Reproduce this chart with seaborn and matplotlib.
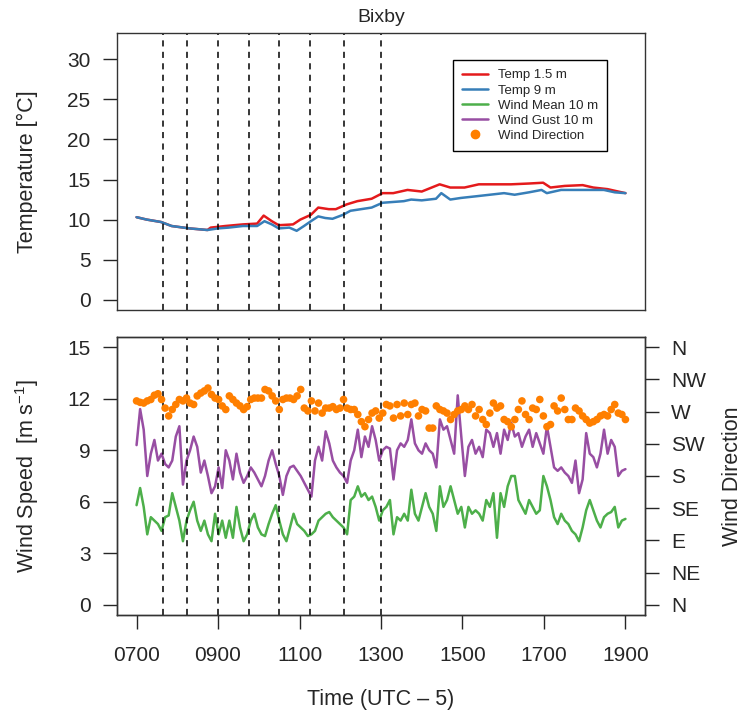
import numpy as np
import pandas as pd
import matplotlib
matplotlib.use("Agg")
import matplotlib.pyplot as plt
import seaborn as sns

# ---------------- data ----------------
temp15_hours = [7.0, 7.25, 7.6, 7.86, 8.3, 8.74, 8.82, 9.18, 9.61, 9.96, 10.12, 10.32, 10.49,
                10.84, 11.02, 11.28, 11.46, 11.72, 11.89, 12.16, 12.42, 12.77, 13.04, 13.3,
                13.65, 14.0, 14.44, 14.7, 15.05, 15.4, 15.75, 16.19, 16.63, 16.98, 17.16,
                17.51, 17.95, 18.21, 18.56, 19.0]
temp15 = [10.3, 10.0, 9.7, 9.2, 8.9, 8.7, 9.0, 9.2, 9.4, 9.5, 10.5, 9.8, 9.3,
          9.4, 10.0, 10.6, 11.5, 11.3, 11.3, 11.9, 12.3, 12.6, 13.3, 13.3,
          13.7, 13.5, 14.4, 14.0, 14.0, 14.4, 14.4, 14.4, 14.5, 14.6, 14.0,
          14.2, 14.3, 14.0, 13.8, 13.3]

temp9_hours = [7.0, 7.25, 7.6, 7.86, 8.3, 8.74, 9.0, 9.26, 9.61, 9.96, 10.14, 10.32, 10.49,
               10.75, 10.93, 11.11, 11.28, 11.46, 11.63, 11.81, 12.07, 12.25, 12.51, 12.77,
               13.04, 13.3, 13.56, 13.74, 14.0, 14.35, 14.48, 14.7, 14.96, 15.32, 15.67,
               16.02, 16.28, 16.63, 16.94, 17.07, 17.42, 17.77, 18.21, 18.47, 18.74, 19.0]
temp9 = [10.3, 10.0, 9.7, 9.2, 8.9, 8.7, 8.9, 9.0, 9.2, 9.2, 9.8, 9.4, 8.9,
         9.0, 8.6, 9.2, 9.8, 10.4, 10.2, 10.1, 10.6, 11.1, 11.3, 11.5,
         12.1, 12.2, 12.3, 12.5, 12.4, 12.6, 13.3, 12.5, 12.7, 12.9, 13.1,
         13.3, 13.1, 13.4, 13.7, 13.3, 13.7, 13.7, 13.7, 13.7, 13.4, 13.3]

wind_gust = [9.3, 11.4, 10.2, 7.5, 8.8, 9.6, 8.4, 8.8, 8.2, 8.0, 8.4, 9.8, 10.4, 7.0, 8.4,
             9.0, 9.8, 9.2, 7.7, 8.4, 7.5, 6.5, 6.9, 8.0, 6.8, 9.0, 8.4, 7.3, 8.8, 7.7,
             7.1, 7.5, 8.0, 7.7, 7.3, 6.9, 7.5, 8.4, 9.0, 8.2, 7.5, 6.4, 7.5, 8.0, 8.1,
             7.8, 7.5, 7.1, 6.7, 6.3, 8.4, 9.2, 8.4, 10.1, 9.4, 8.4, 8.0, 7.7, 7.5, 7.1,
             8.4, 9.0, 10.2, 8.6, 9.8, 9.2, 10.4, 9.6, 8.4, 9.0, 9.2, 9.1, 7.3, 9.0, 9.4,
             9.2, 9.6, 10.8, 9.4, 9.0, 8.8, 9.4, 9.0, 8.8, 8.0, 10.8, 10.2, 10.4, 9.6, 8.8,
             12.2, 9.8, 7.5, 9.2, 9.6, 8.8, 9.2, 8.6, 10.2, 10.0, 9.2, 10.0, 8.8, 10.2, 9.6,
             10.6, 9.8, 10.0, 9.2, 9.8, 10.2, 9.2, 10.0, 9.4, 8.8, 10.4, 9.2, 8.0, 7.8, 8.0,
             7.7, 7.5, 7.1, 8.4, 6.5, 7.3, 10.0, 8.8, 8.6, 8.0, 8.8, 10.2, 8.8, 9.6, 9.2,
             7.5, 7.8, 7.9]

wind_mean = [5.8, 6.8, 5.7, 4.1, 5.1, 4.9, 4.7, 4.3, 5.1, 5.2, 6.5, 5.7, 4.9, 3.7, 4.9,
             5.5, 6.0, 4.9, 4.3, 4.9, 4.1, 3.7, 5.3, 4.1, 4.9, 3.9, 4.9, 3.9, 5.7, 4.5,
             3.7, 4.1, 4.9, 5.3, 4.5, 4.1, 4.0, 4.7, 5.3, 5.8, 4.9, 4.1, 3.7, 4.5, 5.3,
             4.7, 4.5, 4.3, 4.0, 4.1, 4.3, 4.9, 5.1, 5.3, 5.4, 5.1, 4.9, 4.7, 4.5, 4.1,
             6.1, 6.3, 6.9, 6.3, 6.5, 6.1, 6.3, 5.7, 4.9, 5.5, 5.7, 6.1, 4.1, 5.1, 4.9,
             5.3, 4.9, 6.7, 5.3, 4.9, 5.7, 6.5, 5.7, 5.3, 4.3, 6.9, 5.7, 6.1, 6.9, 6.1,
             5.3, 5.7, 4.5, 5.7, 5.3, 5.5, 5.3, 4.9, 6.1, 5.7, 6.5, 3.9, 6.5, 5.7, 6.9,
             7.5, 7.5, 6.1, 5.7, 5.3, 6.1, 5.7, 5.3, 5.5, 7.5, 6.9, 6.1, 5.1, 4.7, 5.3,
             4.9, 4.7, 4.3, 4.1, 3.7, 4.5, 5.5, 6.1, 5.5, 4.9, 4.5, 5.1, 5.3, 5.4, 5.7,
             4.5, 4.9, 5.0]

wind_dir = [285, 283, 282, 285, 287, 293, 295, 287, 275, 264, 273, 280, 287, 285, 289,
            282, 280, 292, 296, 299, 303, 294, 289, 287, 278, 273, 292, 287, 282, 278,
            273, 277, 287, 289, 289, 289, 301, 299, 292, 285, 273, 287, 289, 289, 287,
            292, 301, 275, 271, 285, 271, 282, 268, 275, 275, 277, 273, 275, 287, 275,
            273, 273, 266, 256, 249, 259, 268, 271, 261, 268, 280, 278, 261, 280, 264,
            282, 266, 280, 282, 264, 273, 271, 247, 247, 278, 273, 271, 268, 259, 266,
            271, 273, 278, 273, 280, 264, 273, 259, 252, 268, 282, 275, 278, 259, 256,
            249, 259, 273, 285, 266, 259, 275, 273, 287, 264, 249, 252, 278, 271, 289,
            273, 259, 259, 275, 271, 264, 259, 254, 256, 259, 264, 266, 264, 273, 280,
            268, 266, 259]

event_hours = [7.65, 8.25, 9.0, 9.75, 10.5, 11.25, 12.1, 13.0]

xtick_hours = [7, 9, 11, 13, 15, 17, 19]
xtick_labels = ["0700", "0900", "1100", "1300", "1500", "1700", "1900"]
temp_ticks = [0, 5, 10, 15, 20, 25, 30]
speed_ticks = [0, 3, 6, 9, 12, 15]
dir_ticks = [0, 45, 90, 135, 180, 225, 270, 315, 360]
dir_labels = ["N", "NE", "E", "SE", "S", "SW", "W", "NW", "N"]

# ---------------- style ----------------
sns.set_style("ticks")
plt.rcParams["font.family"] = ["Liberation Sans", "DejaVu Sans"]
plt.rcParams["mathtext.fontset"] = "custom"
plt.rcParams["mathtext.rm"] = "Liberation Sans"
plt.rcParams["axes.linewidth"] = 1.0
plt.rcParams["axes.edgecolor"] = "#333333"

c_red, c_blue, c_green, c_purple, c_orange = "#E41A1C", "#377EB8", "#4DAF4A", "#984EA3", "#FF7F00"
TICK_FS = 15
LAB_FS = 15.5

W, H = 745, 721
fig = plt.figure(figsize=(W / 100, H / 100), dpi=100)
ax1 = fig.add_axes([117 / W, 1 - 310 / H, 528 / W, 277 / H])
ax2 = fig.add_axes([117 / W, 1 - 615 / H, 528 / W, 278 / H])

xlim = (7 - 0.48, 19 + 0.48)

# ---------------- top panel ----------------
df15 = pd.DataFrame({"hour": temp15_hours, "val": temp15})
df9 = pd.DataFrame({"hour": temp9_hours, "val": temp9})
sns.lineplot(data=df15, x="hour", y="val", ax=ax1, color=c_red, lw=1.8, label="Temp 1.5 m")
sns.lineplot(data=df9, x="hour", y="val", ax=ax1, color=c_blue, lw=1.8, label="Temp 9 m")
ax1.plot([], [], color=c_green, lw=1.8, label="Wind Mean 10 m")
ax1.plot([], [], color=c_purple, lw=1.8, label="Wind Gust 10 m")
ax1.plot([], [], "o", color=c_orange, ms=6, label="Wind Direction")
for h in event_hours:
    ax1.axvline(h, color="black", ls=(0, (4, 3.5)), lw=1.1)
ax1.set_xlim(*xlim)
ax1.set_ylim(-1.28, 33.28)
ax1.set_yticks(temp_ticks)
ax1.set_xticks([])
ax1.set_xlabel("")
ax1.set_ylabel("Temperature [°C]", fontsize=LAB_FS)
ax1.yaxis.set_label_coords((27 - 117) / 528, 0.5)
ax1.yaxis.label.set_va("center")
ax1.set_title("Bixby", fontsize=14, pad=8)
ax1.tick_params(axis="y", labelsize=TICK_FS, length=10, width=1, direction="out", pad=9)
leg = ax1.legend(loc="upper right", bbox_to_anchor=((607 - 117) / 528, (310 - 60) / 277),
                 borderaxespad=0, fontsize=9.5, frameon=True, fancybox=False,
                 edgecolor="black", handlelength=2.0, handletextpad=0.7, labelspacing=0.22,
                 borderpad=0.7, framealpha=1)
leg.get_frame().set_linewidth(1.0)

# ---------------- bottom panel ----------------
dfg = pd.DataFrame({"hour": np.linspace(7, 19, len(wind_gust)), "val": wind_gust})
dfm = pd.DataFrame({"hour": np.linspace(7, 19, len(wind_mean)), "val": wind_mean})
sns.lineplot(data=dfg, x="hour", y="val", ax=ax2, color=c_purple, lw=1.8)
sns.lineplot(data=dfm, x="hour", y="val", ax=ax2, color=c_green, lw=1.8)
for h in event_hours:
    ax2.axvline(h, color="black", ls=(0, (4, 3.5)), lw=1.1)
ax2.set_xlim(*xlim)
ax2.set_ylim(-0.6, 15.6)
ax2.set_yticks(speed_ticks)
ax2.set_xticks(xtick_hours)
ax2.set_xticklabels(xtick_labels)
ax2.set_xlabel("Time (UTC – 5)", fontsize=LAB_FS)
ax2.xaxis.set_label_coords(0.5, (615 - 700) / 278)
ax2.xaxis.label.set_va("center")
ax2.set_ylabel("Wind Speed  [m s$^{-1}$]", fontsize=LAB_FS)
ax2.yaxis.set_label_coords((27 - 117) / 528, 0.5)
ax2.yaxis.label.set_va("center")
ax2.tick_params(axis="y", labelsize=TICK_FS, length=10, width=1, direction="out", pad=9)
ax2.tick_params(axis="x", labelsize=TICK_FS, length=10, width=1, direction="out", pad=12)

ax3 = ax2.twinx()
dfd = pd.DataFrame({"hour": np.linspace(7, 19, len(wind_dir)), "val": wind_dir})
sns.scatterplot(data=dfd, x="hour", y="val", ax=ax3, color=c_orange, s=30,
                edgecolor="none", zorder=5)
ax3.set_ylim(-0.6 * 24, 15.6 * 24)
ax3.set_yticks(dir_ticks)
ax3.set_yticklabels(dir_labels)
ax3.set_ylabel("Wind Direction", fontsize=LAB_FS)
ax3.yaxis.set_label_coords((733 - 117) / 528, 0.5)
ax3.yaxis.label.set_va("center")
ax3.tick_params(axis="y", labelsize=TICK_FS, length=10, width=1, direction="out", pad=9)
ax3.set_xlim(*xlim)

for a in (ax1, ax2, ax3):
    for s in a.spines.values():
        s.set_visible(True)
        s.set_color("#333333")

fig.savefig("out.png", dpi=100)
